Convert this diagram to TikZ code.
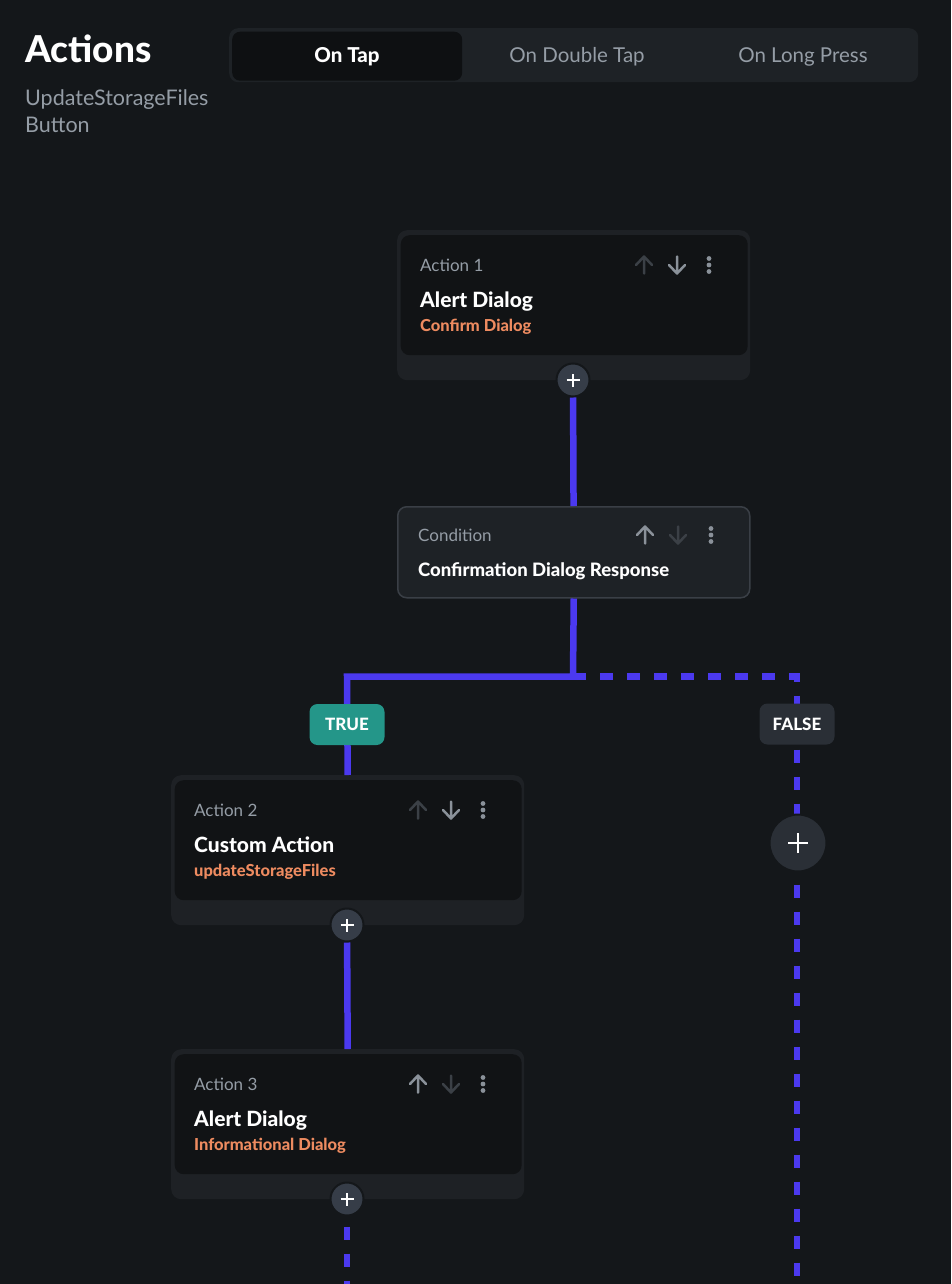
\documentclass[tikz,border=0pt]{standalone}
\usepackage{fontspec}
\setmainfont{Lato}[BoldFont={Lato Heavy}]

\definecolor{bg}{HTML}{14171A}
\definecolor{cardouter}{HTML}{1E2125}
\definecolor{cardinner}{HTML}{111315}
\definecolor{condfill}{HTML}{1E2226}
\definecolor{condline}{HTML}{3A3F46}
\definecolor{tabbar}{HTML}{1E2226}
\definecolor{tabsel}{HTML}{0E1012}
\definecolor{plusfill}{HTML}{363D48}
\definecolor{falsefill}{HTML}{2A2F36}
\definecolor{truefill}{HTML}{249689}
\definecolor{flowblue}{HTML}{4B39EF}
\definecolor{mutedtext}{HTML}{959DA6}
\definecolor{accent}{HTML}{EE8B60}
\definecolor{iconlight}{HTML}{8A9199}
\definecolor{icondim}{HTML}{3B4046}

\tikzset{
  txt/.style={anchor=base west, inner sep=0pt},
  cardframe/.style={rectangle, rounded corners=10pt, fill=cardouter, minimum width=353pt, minimum height=150pt, inner sep=0pt, anchor=north west},
  cardpanel/.style={rectangle, rounded corners=9pt, fill=cardinner, minimum width=347pt, minimum height=120pt, inner sep=0pt, anchor=north west},
  condbox/.style={rectangle, rounded corners=9pt, fill=condfill, draw=condline, line width=1.5pt, minimum width=352pt, minimum height=91pt, inner sep=0pt, anchor=north west},
  addbtn/.style={circle, fill=plusfill, draw=bg, line width=2pt, minimum size=33pt, inner sep=0pt,
    path picture={\draw[white, line width=2.2pt] ([xshift=-6.5pt]path picture bounding box.center) -- ([xshift=6.5pt]path picture bounding box.center)
      ([yshift=-6.5pt]path picture bounding box.center) -- ([yshift=6.5pt]path picture bounding box.center);}},
  bigaddbtn/.style={circle, fill=falsefill, draw=bg, line width=2pt, minimum size=57pt, inner sep=0pt,
    path picture={\draw[white, line width=2.8pt] ([xshift=-10pt]path picture bounding box.center) -- ([xshift=10pt]path picture bounding box.center)
      ([yshift=-10pt]path picture bounding box.center) -- ([yshift=10pt]path picture bounding box.center);}},
  badge/.style={rectangle, rounded corners=8pt, minimum width=75pt, minimum height=41pt, inner sep=0pt, text=white, font=\fontsize{17}{20}\selectfont\bfseries},
  flow/.style={draw=flowblue, line width=6.5pt, line join=miter},
  flowdash/.style={flow, dash pattern=on 13pt off 14pt},
  iconline/.style={line width=2.5pt, line cap=round, line join=round},
  cardlabel/.style={txt, text=mutedtext, font=\fontsize{17}{20}\selectfont},
  cardtitle/.style={txt, text=white, font=\fontsize{21}{24}\selectfont\bfseries},
  cardsub/.style={txt, text=accent, font=\fontsize{16.5}{20}\selectfont\bfseries},
}

% small toolbar icons, centred at (#1,#2), stroke colour #3
\newcommand\upicon[3]{\begin{scope}[shift={(#1,#2)}]
  \draw[iconline, draw=#3] (0,8.5) -- (0,-8.5) (-8,0) -- (0,-8.5) -- (8,0);\end{scope}}
\newcommand\downicon[3]{\begin{scope}[shift={(#1,#2)}]
  \draw[iconline, draw=#3] (0,-8.5) -- (0,8.5) (-8,0) -- (0,8.5) -- (8,0);\end{scope}}
\newcommand\dotsicon[2]{\begin{scope}[shift={(#1,#2)}]
  \fill[iconlight] (0,-6.5) circle (2.4pt) (0,0) circle (2.4pt) (0,6.5) circle (2.4pt);\end{scope}}

% action card: name, left, top, label, title, subtitle, up colour, down colour
\newcommand\actioncard[8]{%
  \node[cardframe] (#1) at (#2,#3) {};
  \begin{scope}[shift={(#2,#3)}]
    \node[cardpanel] (#1panel) at (3.5,5) {};
    \node[cardlabel] (#1label) at (23,41) {#4};
    \node[cardtitle] (#1title) at (23,77) {#5};
    \node[cardsub] (#1sub) at (23,101) {#6};
    \upicon{247}{35}{#7}
    \downicon{280}{35}{#8}
    \dotsicon{312}{35}
  \end{scope}}

\begin{document}
\begin{tikzpicture}[x=1pt, y=-1pt]
\fill[bg] (0,0) rectangle (951,1284);
\useasboundingbox (0,0) rectangle (951,1284);

% header
\node[txt, text=white, font=\fontsize{37}{42}\selectfont\bfseries] (title) at (25,63) {Actions};
\node[txt, text=mutedtext, font=\fontsize{21.5}{24}\selectfont] (widget) at (25,106) {UpdateStorageFiles};
\node[txt, text=mutedtext, font=\fontsize{21.5}{24}\selectfont] (widgettype) at (25,133) {Button};

% trigger tabs
\node[rectangle, rounded corners=9pt, fill=tabbar, minimum width=689pt, minimum height=54pt, inner sep=0pt, anchor=north west] (tabs) at (229,28) {};
\node[rectangle, rounded corners=8pt, fill=tabsel, minimum width=230pt, minimum height=49pt, inner sep=0pt, anchor=north west] (tabsel) at (232,31.5) {};
\node[text=white, font=\fontsize{20.5}{24}\selectfont\bfseries] (ontap) at (347,57) {On Tap};
\node[text=mutedtext, font=\fontsize{20.5}{24}\selectfont] (ondouble) at (577,57) {On Double Tap};
\node[text=mutedtext, font=\fontsize{20.5}{24}\selectfont] (onlong) at (803,57) {On Long Press};

% action cards
\actioncard{a1}{397}{230}{Action 1}{Alert Dialog}{Confirm Dialog}{icondim}{iconlight}
\actioncard{a2}{171}{775}{Action 2}{Custom Action}{updateStorageFiles}{icondim}{iconlight}
\actioncard{a3}{171}{1049}{Action 3}{Alert Dialog}{Informational Dialog}{iconlight}{icondim}

% condition card
\node[condbox] (cond) at (397,506) {};
\node[cardlabel] (condlabel) at (418,541) {Condition};
\node[txt, text=white, font=\fontsize{18.5}{21}\selectfont\bfseries] (condtitle) at (418,576) {Confirmation Dialog Response};
\upicon{645}{535}{iconlight}
\downicon{678}{535}{icondim}
\dotsicon{711}{535}

% add buttons under the action cards
\node[addbtn] (p1) at (573,380) {};
\node[addbtn] (p2) at (347,925) {};
\node[addbtn] (p3) at (347,1199) {};

% branch geometry
\coordinate (split) at (573,676.5);
\coordinate (bendT) at (347,676.5);
\coordinate (bendF) at (797,676.5);
\coordinate (endF) at (797,1284);
\coordinate (end3) at (347,1284);

% connectors
\draw[flow] (p1) -- (cond);
\draw[flowdash] (split) -- (bendF) -- (endF);
\draw[flow] (cond.south) -- (split) -- (bendT) -- (a2.north);
\draw[flow] (p2) -- (a3.north);
\draw[flowdash, dash phase=17pt] (p3) -- (end3);

% branch badges and the empty FALSE branch button
\node[badge, fill=truefill] (true) at (347,724.5) {TRUE};
\node[badge, fill=falsefill] (false) at (797,724) {FALSE};
\node[bigaddbtn] (pF) at (798,843) {};
\end{tikzpicture}
\end{document}
